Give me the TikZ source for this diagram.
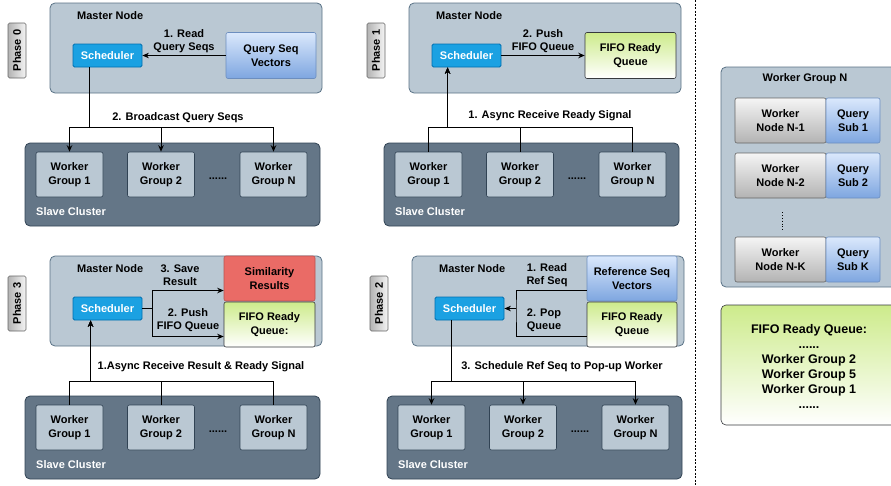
\documentclass[tikz,border=0pt]{standalone}
\usepackage{fontspec}
\setmainfont{Liberation Sans}
\usetikzlibrary{arrows.meta}

\definecolor{mastfill}{HTML}{BAC8D3}
\definecolor{mastline}{HTML}{5A7286}
\definecolor{slavefill}{HTML}{647687}
\definecolor{slaveline}{HTML}{314354}
\definecolor{schedfill}{HTML}{1BA1E2}
\definecolor{schedline}{HTML}{006EAF}
\definecolor{bluetop}{HTML}{DAE8FC}
\definecolor{bluebot}{HTML}{7EA6E0}
\definecolor{blueline}{HTML}{6C8EBF}
\definecolor{greentop}{HTML}{CDEB8B}
\definecolor{greenline}{HTML}{36393D}
\definecolor{redfill}{HTML}{EA6B66}
\definecolor{redline}{HTML}{B85450}
\definecolor{graytop}{HTML}{F5F5F5}
\definecolor{graybot}{HTML}{B3B3B3}
\definecolor{grayline}{HTML}{666666}

\tikzset{
  masterbox/.style={draw=mastline, fill=mastfill, rounded corners=5pt, line width=0.8pt,
    minimum width=272pt, minimum height=90pt},
  slavebox/.style={draw=slaveline, fill=slavefill, rounded corners=5pt, line width=0.8pt,
    minimum width=295pt, minimum height=83pt},
  groupbox/.style={draw=slaveline, fill=mastfill, rounded corners=2pt, line width=0.6pt,
    minimum width=67pt, minimum height=45pt},
  schedbox/.style={draw=schedline, fill=schedfill, text=white, rounded corners=1.5pt,
    line width=0.8pt, minimum width=69pt, minimum height=23pt},
  bluebox/.style={draw=blueline, top color=bluetop, bottom color=bluebot, rounded corners=2pt,
    line width=0.6pt, minimum width=90pt, minimum height=45pt},
  greenbox/.style={draw=greenline, top color=greentop, bottom color=white, rounded corners=2pt,
    line width=0.6pt, minimum width=91pt, minimum height=45pt},
  redbox/.style={draw=redline, fill=redfill, rounded corners=2pt, line width=0.6pt,
    minimum width=91pt, minimum height=45pt},
  graybox/.style={draw=grayline, top color=graytop, bottom color=graybot, rounded corners=2pt,
    line width=0.6pt, minimum width=91pt, minimum height=45pt},
  tagbox/.style={draw=grayline, left color=graybot, right color=graytop, rounded corners=1.5pt,
    line width=0.6pt, minimum width=55pt, minimum height=18pt, inner sep=0pt, rotate=90},
  lbl/.style={inner sep=1pt},
  wire/.style={line width=1pt},
}

\begin{document}
\begin{tikzpicture}[x=1pt, y=-1pt, >={Stealth[length=6.5pt,width=5.5pt]},
  every node/.style={font=\fontsize{11}{13.5}\selectfont\bfseries, align=center}]

\useasboundingbox (0,0) rectangle (891,485);

% common parts of the four phases
\foreach \ph/\dx/\dy in {0/0/0, 1/359/0, 3/0/253, 2/362/253} {
\begin{scope}[shift={(\dx,\dy)}]
  \node[masterbox] (master\ph) at (186,48) {};
  \node[lbl, anchor=west] at (76,16) {Master Node};
  \node[tagbox] (tag\ph) at (17,50.5) {Phase \ph};
  \node[schedbox] (sched\ph) at (107.5,55.5) {Scheduler};
  \node[slavebox] (slave\ph) at (172.5,184.5) {};
  \node[lbl, anchor=west, text=white] at (35,212) {Slave Cluster};
  \node[groupbox] (wg\ph 1) at (69.5,174.5) {Worker\\Group 1};
  \node[groupbox] (wg\ph 2) at (161,174.5) {Worker\\Group 2};
  \node[groupbox] (wg\ph N) at (273.5,174.5) {Worker\\Group N};
  \node[lbl] at (218,178.5) {......};
\end{scope}
}

% phase 0
\node[bluebox, minimum height=46pt] (qsv) at (271,55.5) {Query Seq\\Vectors};
\draw[wire,->] (qsv) -- (sched0) node[lbl, midway, above=1pt] {1. Read\\Query Seqs};
\foreach \w in {1,2,N}
  \draw[wire,->] ([xshift=17pt]sched0.south west) |- ([yshift=24pt]wg0\w.north) -- (wg0\w.north);
\node[lbl] (bcast) at (178,118) {2. Broadcast Query Seqs};

% phase 1
\node[greenbox, minimum height=46pt] (fifo1) at (630.5,55.5) {FIFO Ready\\Queue};
\draw[wire,->] (sched1) -- (fifo1) node[lbl, midway, above=1pt] {2. Push\\FIFO Queue};
\foreach \w in {1,2,N}
  \draw[wire,->] (wg1\w.north) -- ([yshift=24pt]wg1\w.north) -| ([xshift=16pt]sched1.south west);
\node[lbl] (ready) at (550,116) {1. Async Receive Ready Signal};

% phase 3
\node[redbox] (simres) at (269.5,278.5) {Similarity\\Results};
\node[greenbox] (fifo3) at (269.5,324.5) {FIFO Ready\\Queue:};
\draw[wire,->] (sched3.east) -- ++(10,0) |- ([yshift=-12pt]simres.west);
\draw[wire,->] (sched3.east) -- ++(10,0) |- ([yshift=-12pt]fifo3.west);
\node[lbl] (save) at (180,275) {3. Save\\Result};
\node[lbl] (push3) at (188,320) {2. Push\\FIFO Queue};
\foreach \w in {1,2,N}
  \draw[wire,->] (wg3\w.north) -- ([yshift=23pt]wg3\w.north) -| ([xshift=18pt]sched3.south west);
\node[lbl] (result) at (201,367) {1.Async Receive Result \& Ready Signal};

% phase 2
\node[bluebox] (refseq) at (632,278.5) {Reference Seq\\Vectors};
\node[greenbox, minimum width=90pt] (fifo2) at (632,324.5) {FIFO Ready\\Queue};
\coordinate (popjoin) at (516,308.5);
\draw[wire] ([yshift=-12pt]refseq.west) -| (popjoin) |- ([yshift=-12pt]fifo2.west);
\draw[wire,->] (popjoin) -- (sched2.east);
\node[lbl] (readref) at (547,275) {1. Read\\Ref Seq};
\node[lbl] (pop) at (544,320) {2. Pop\\Queue};
\foreach \w in {1,2,N}
  \draw[wire,->] ([xshift=17pt]sched2.south west) |- ([yshift=23pt]wg2\w.north) -- (wg2\w.north);
\node[lbl] (dispatch) at (562,367) {3. Schedule Ref Seq to Pop-up Worker};

% separator
\draw[line width=1pt, dash pattern=on 2pt off 1.5pt] (695,0) -- (695,485);

% worker group detail
\node[masterbox, minimum width=190pt, minimum height=220pt] (grpN) at (816,177) {};
\node[lbl] at (805,79) {Worker Group N};
\node[graybox] (wn1) at (780.5,120.5) {Worker\\Node N-1};
\node[bluebox, minimum width=54pt] (qs1) at (853,120.5) {Query\\Sub 1};
\node[graybox] (wn2) at (780.5,175.5) {Worker\\Node N-2};
\node[bluebox, minimum width=54pt] (qs2) at (853,175.5) {Query\\Sub 2};
\node[graybox] (wnK) at (780.5,259.5) {Worker\\Node N-K};
\node[bluebox, minimum width=54pt] (qsK) at (853,259.5) {Query\\Sub K};
\draw[dotted, line width=0.8pt, shorten <=14pt, shorten >=7pt] ([xshift=1.5pt]wn2.south) -- ([xshift=1.5pt]wnK.north);

% queue contents
\node[greenbox, minimum width=190pt, minimum height=120pt, rounded corners=5pt] (queue) at (816,365) {};
\node[lbl, font=\fontsize{12.5}{15}\selectfont\bfseries] (qtext) at (809,366)
  {FIFO Ready Queue:\\......\\Worker Group 2\\Worker Group 5\\Worker Group 1\\......};

\end{tikzpicture}
\end{document}
